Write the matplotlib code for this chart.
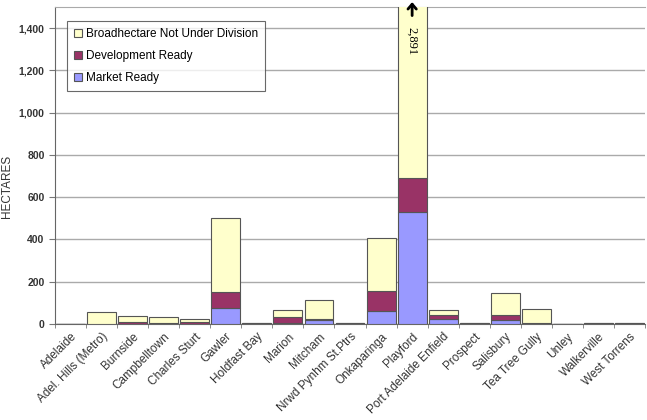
import matplotlib
matplotlib.use("Agg")
import matplotlib.pyplot as plt
import numpy as np

councils = ["Adelaide", "Adel. Hills (Metro)", "Burnside", "Campbelltown", "Charles Sturt",
            "Gawler", "Holdfast Bay", "Marion", "Mitcham", "Nrwd Pynhm St.Ptrs",
            "Onkaparinga", "Playford", "Port Adelaide Enfield", "Prospect", "Salisbury",
            "Tea Tree Gully", "Unley", "Walkerville", "West Torrens"]
market_ready = [0, 0, 1, 1, 1, 73, 1, 5, 17, 1, 63, 530, 22, 1, 16, 1, 0, 1, 1]
development_ready = [0, 0, 7, 5, 6, 76, 2, 25, 5, 1, 94, 160, 19, 1, 24, 5, 0, 1, 1]
broadhectare = [0, 58, 27, 24, 18, 351, 0, 35, 92, 0, 250, 2201, 25, 0, 106, 64, 1, 1, 1]

plt.rcParams["font.family"] = ["Liberation Sans", "DejaVu Sans"]

fig = plt.figure(figsize=(6.47, 4.2), dpi=100)
ax = fig.add_axes([0.085, 0.229, 0.912, 0.754])

x = np.arange(len(councils))
mr = np.array(market_ready)
dr = np.array(development_ready)
bh = np.array(broadhectare)
w = 0.93
edge = "#555555"
b1 = ax.bar(x, mr, w, color="#9999FF", edgecolor=edge, linewidth=0.8, label="Market Ready", zorder=3)
b2 = ax.bar(x, dr, w, bottom=mr, color="#993366", edgecolor=edge, linewidth=0.8, label="Development Ready", zorder=3)
b3 = ax.bar(x, bh, w, bottom=mr + dr, color="#FFFFCC", edgecolor=edge, linewidth=0.8,
            label="Broadhectare Not Under Division", zorder=3)

ymax = 1500
ax.set_ylim(0, ymax)
ax.set_xlim(-0.5, len(councils) - 0.5)
ax.set_yticks(np.arange(0, 1401, 200))
ax.set_yticklabels([f"{v:,}" for v in range(0, 1401, 200)], fontsize=7.5, fontweight="bold", color="#333333")
ax.yaxis.grid(True, color="#aaaaaa", linewidth=1.0, zorder=0)
ax.set_axisbelow(True)

ax.set_xticks(x)
ax.set_xticklabels(councils, rotation=45, ha="right", rotation_mode="anchor", fontsize=8.5, color="#333333")
ax.tick_params(axis="x", length=0, pad=5)
ax.set_xticks(np.arange(-0.5, len(councils), 1), minor=True)
ax.tick_params(axis="x", which="minor", length=3, color="#777777")
ax.tick_params(axis="y", length=4, color="#777777")

for s in ["left", "bottom"]:
    ax.spines[s].set_color("#666666")
ax.spines["right"].set_visible(False)
ax.spines["top"].set_color("#aaaaaa")

ax.set_ylabel("HECTARES", fontsize=8.5, color="#333333")
ax.yaxis.set_label_coords(-0.071, 0.435)

# total for the clipped Playford bar
ip = councils.index("Playford")
total = mr[ip] + dr[ip] + bh[ip]
ax.text(ip, 1405, f"{total:,}", rotation=270, ha="center", va="top", fontsize=9,
        family=["Liberation Serif", "DejaVu Serif"], zorder=5)
ax.annotate("", xy=(ip, 1524), xytext=(ip, 1460),
            arrowprops=dict(arrowstyle="->,head_length=0.35,head_width=0.3", color="black",
                            lw=2.0, shrinkA=0, shrinkB=0),
            annotation_clip=False, zorder=5)

handles = [b3, b2, b1]
leg = ax.legend(handles, [h.get_label() for h in handles], loc="upper left",
                bbox_to_anchor=(0.01, 0.975), fontsize=8.5, frameon=True, fancybox=False,
                edgecolor="#444444", handlelength=0.7, handleheight=0.7, handletextpad=0.3,
                labelspacing=0.85, borderpad=0.6)
leg.get_frame().set_linewidth(0.8)

fig.savefig("out.png", dpi=100)
